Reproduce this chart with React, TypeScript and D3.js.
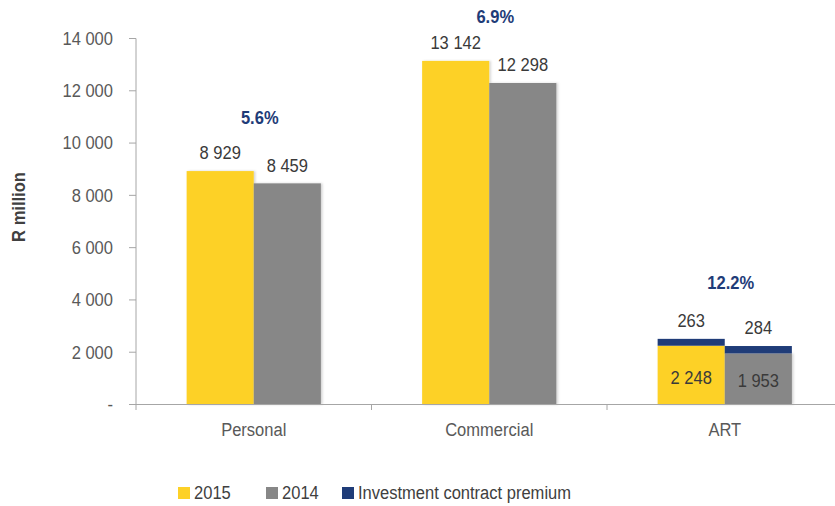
import React from "react";
import * as d3 from "d3";

const categories = ["Personal", "Commercial", "ART"];
const series2015 = [8929, 13142, 2248];
const series2014 = [8459, 12298, 1953];
const investment2015 = [0, 0, 263];
const investment2014 = [0, 0, 284];
const growthLabels = ["5.6%", "6.9%", "12.2%"];
const growthLabelY = [10960, 14820, 4650];
const yTicks = [0, 2000, 4000, 6000, 8000, 10000, 12000, 14000];
const legendItems = ["2015", "2014", "Investment contract premium"];

const W = 835;
const H = 506;
const YELLOW = "#FDD127";
const GRAY = "#878787";
const NAVY = "#1F3C78";
const FONT = "'Liberation Sans', Arial, sans-serif";
const SX = 0.87;
const FS = 19;

function NText(props: {
  x: number;
  y: number;
  children: React.ReactNode;
  anchor?: "start" | "middle" | "end";
  fill?: string;
  bold?: boolean;
  rotate?: number;
  size?: number;
}) {
  const { x, y, children, anchor = "middle", fill = "#3a3a3a", bold, rotate = 0, size = FS } = props;
  return (
    <text
      transform={`translate(${x},${y}) rotate(${rotate}) scale(${SX},1)`}
      textAnchor={anchor}
      dominantBaseline="central"
      fontSize={size}
      fontWeight={bold ? "bold" : "normal"}
      fill={fill}
    >
      {children}
    </text>
  );
}

export default function App() {
  const x0 = 136;
  const band = 235.5;
  const x = d3.scaleBand<string>().domain(categories).range([x0, x0 + band * 3]).padding(0);
  const barW = band * 0.285;
  const groupOffset = (band - 2 * barW) / 2;
  const y = d3.scaleLinear().domain([0, 14000]).range([404.5, 38.5]);
  const fmt = (v: number) => (v === 0 ? "-" : d3.format(",")(v).replace(/,/g, " "));

  const bars: any[] = [];
  categories.forEach((c, i) => {
    const bx = (x(c) as number) + groupOffset;
    const items = [
      { v: series2015[i], inv: investment2015[i], col: YELLOW, xx: bx },
      { v: series2014[i], inv: investment2014[i], col: GRAY, xx: bx + barW },
    ];
    items.forEach((it, j) => {
      const top = it.v + it.inv;
      bars.push(
        <g key={`${i}-${j}`}>
          <rect x={it.xx} y={y(it.v)} width={barW} height={y(0) - y(it.v)} fill={it.col} filter="url(#sh)" />
          {it.inv > 0 && (
            <rect x={it.xx} y={y(top)} width={barW} height={y(it.v) - y(top)} fill={NAVY} />
          )}
          <NText x={it.xx + barW / 2} y={y(top) - 18}>
            {it.inv > 0 ? fmt(it.inv) : fmt(it.v)}
          </NText>
          {it.inv > 0 && (
            <NText x={it.xx + barW / 2} y={(y(0) + y(it.v)) / 2 + 2}>
              {fmt(it.v)}
            </NText>
          )}
        </g>
      );
    });
  });

  return (
    <svg width={W} height={H} style={{ position: "absolute", left: 0, top: 0, fontFamily: FONT }}>
      <defs>
        <filter id="sh" x="-5%" y="-5%" width="115%" height="110%">
          <feDropShadow dx="1.5" dy="0" stdDeviation="1" floodColor="#000" floodOpacity="0.18" />
        </filter>
      </defs>
      <rect width={W} height={H} fill="#fff" />
      {/* y axis */}
      <line x1={x0} x2={x0} y1={y(14000)} y2={410} stroke="#A6A6A6" strokeWidth={1} />
      {yTicks.map((t) => (
        <g key={t}>
          <line x1={129} x2={x0} y1={y(t)} y2={y(t)} stroke="#A6A6A6" />
          <NText x={113} y={y(t)} anchor="end" fill="#595959">
            {fmt(t)}
          </NText>
        </g>
      ))}
      <NText x={19} y={207} rotate={-90} bold fill="#404040">
        R million
      </NText>
      {bars}
      {/* x axis */}
      <line x1={x0} x2={W} y1={y(0)} y2={y(0)} stroke="#A6A6A6" />
      {categories.map((c, i) => (
        <g key={c}>
          {i > 0 && <line x1={x(c)} x2={x(c)} y1={y(0)} y2={410} stroke="#A6A6A6" />}
          <NText x={(x(c) as number) + band / 2} y={430} fill="#595959">
            {c}
          </NText>
          <NText x={(x(c) as number) + band / 2 + 6} y={y(growthLabelY[i])} bold fill={NAVY}>
            {growthLabels[i]}
          </NText>
        </g>
      ))}
      {/* legend */}
      {legendItems.map((l, i) => {
        const lx = [178, 266, 342][i];
        const col = [YELLOW, GRAY, NAVY][i];
        return (
          <g key={l}>
            <rect x={lx} y={487} width={12} height={12} fill={col} />
            <NText x={lx + 16} y={493} anchor="start" fill="#404040">
              {l}
            </NText>
          </g>
        );
      })}
    </svg>
  );
}
